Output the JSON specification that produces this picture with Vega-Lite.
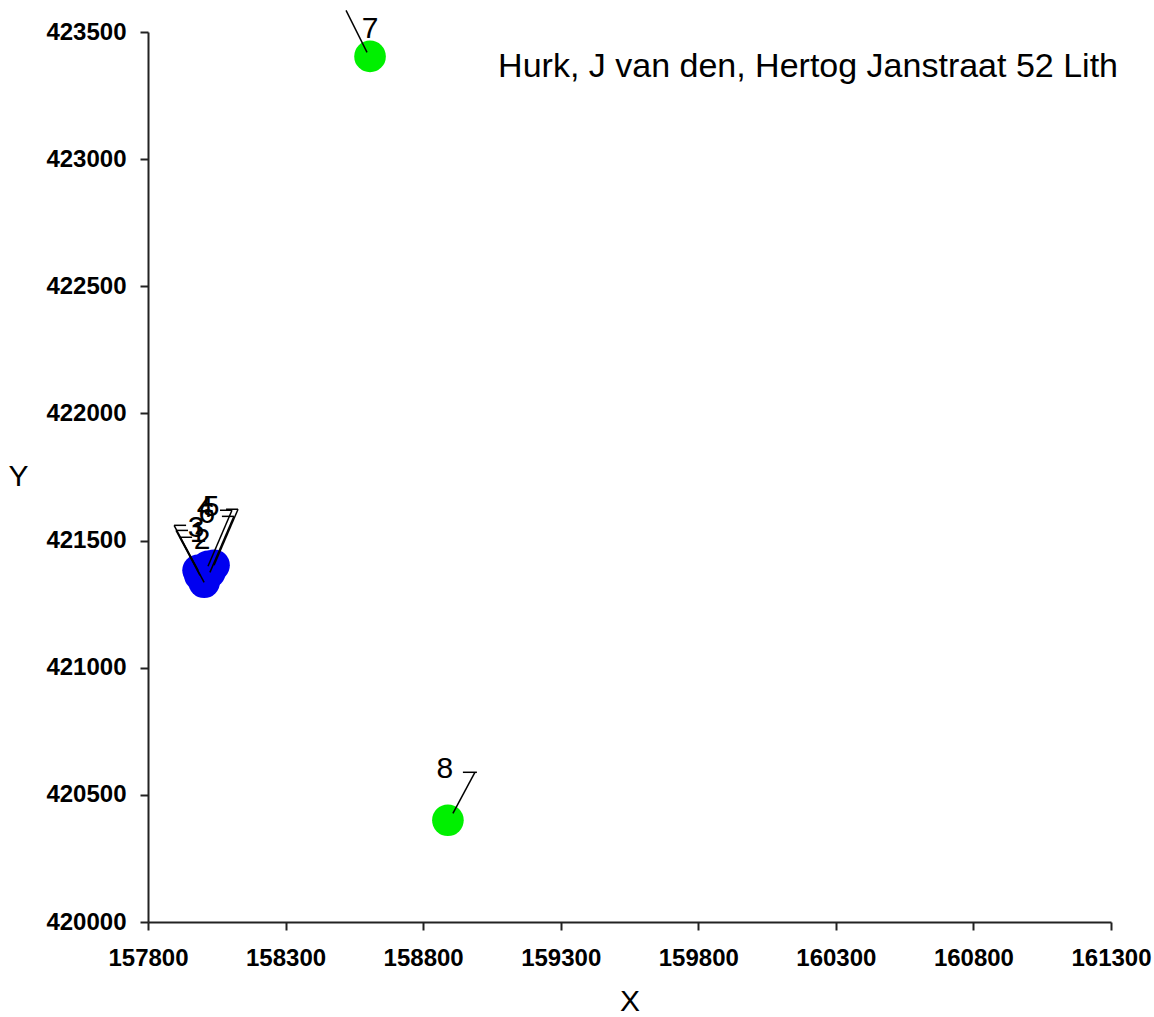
{
  "$schema": "https://vega.github.io/schema/vega-lite/v6.json",
  "width": 963,
  "height": 890,
  "autosize": {"type": "none"},
  "padding": {"left": 148, "top": 32, "right": 43, "bottom": 95},
  "background": "white",
  "config": {"view": {"stroke": null}, "font": "Liberation Sans"},
  "data": {
    "values": [
      {"label": "1", "x": 157989, "y": 421363, "kind": "blue", "grp": "L"},
      {"label": "2", "x": 158004, "y": 421336, "kind": "blue", "grp": "L"},
      {"label": "3", "x": 157982, "y": 421383, "kind": "blue", "grp": "L"},
      {"label": "4", "x": 158018, "y": 421399, "kind": "blue", "grp": "R"},
      {"label": "5", "x": 158040, "y": 421403, "kind": "blue", "grp": "R"},
      {"label": "6", "x": 158025, "y": 421375, "kind": "blue", "grp": "R"},
      {"label": "7", "x": 158607, "y": 423404, "kind": "green", "grp": "A"},
      {"label": "8", "x": 158890, "y": 420400, "kind": "green", "grp": "B"}
    ]
  },
  "encoding": {
    "x": {
      "field": "x",
      "type": "quantitative",
      "scale": {"domain": [157800, 161300], "nice": false, "zero": false},
      "axis": {
        "values": [157800, 158300, 158800, 159300, 159800, 160300, 160800, 161300],
        "format": "d",
        "labelFont": "Liberation Sans",
        "labelFontWeight": "bold",
        "labelFontSize": 24,
        "labelColor": "black",
        "labelFlush": false,
        "labelOverlap": false,
        "tickSize": 8,
        "tickWidth": 2,
        "tickColor": "#222",
        "domainColor": "#222",
        "domainWidth": 2,
        "grid": false,
        "labelPadding": 16,
        "title": "X",
        "titleFont": "Liberation Sans",
        "titleFontSize": 30,
        "titleFontWeight": "normal",
        "titleColor": "black",
        "titlePadding": 16
      }
    },
    "y": {
      "field": "y",
      "type": "quantitative",
      "scale": {"domain": [420000, 423500], "nice": false, "zero": false},
      "axis": {
        "values": [420000, 420500, 421000, 421500, 422000, 422500, 423000, 423500],
        "format": "d",
        "labelFont": "Liberation Sans",
        "labelFontWeight": "bold",
        "labelFontSize": 24,
        "labelColor": "black",
        "labelFlush": false,
        "labelOverlap": false,
        "tickSize": 8,
        "tickWidth": 2,
        "tickColor": "#222",
        "domainColor": "#222",
        "domainWidth": 2,
        "grid": false,
        "labelPadding": 14,
        "title": "Y",
        "titleFont": "Liberation Sans",
        "titleFontSize": 30,
        "titleFontWeight": "normal",
        "titleColor": "black",
        "titleAngle": 0,
        "titleX": -130,
        "titleY": 444,
        "titleAlign": "center",
        "titleBaseline": "middle"
      }
    }
  },
  "layer": [
    {
      "mark": {"type": "circle", "size": 1000, "opacity": 1},
      "encoding": {
        "color": {
          "field": "kind",
          "type": "nominal",
          "scale": {"domain": ["blue", "green"], "range": ["#0000F0", "#00F000"]},
          "legend": null
        }
      }
    },
    {
      "transform": [{"filter": "datum.grp === 'L'"}],
      "mark": {"type": "rule", "color": "black", "strokeWidth": 1.5, "x2Offset": -24, "y2Offset": -45},
      "encoding": {"x2": {"field": "x"}, "y2": {"field": "y"}}
    },
    {
      "transform": [{"filter": "datum.grp === 'L'"}],
      "mark": {"type": "rule", "color": "black", "strokeWidth": 1.5, "xOffset": -24, "x2Offset": -12, "yOffset": -45, "y2Offset": -45},
      "encoding": {"x2": {"field": "x"}, "y2": {"field": "y"}}
    },
    {
      "transform": [{"filter": "datum.grp === 'R'"}],
      "mark": {"type": "rule", "color": "black", "strokeWidth": 1.5, "x2Offset": 24, "y2Offset": -56},
      "encoding": {"x2": {"field": "x"}, "y2": {"field": "y"}}
    },
    {
      "transform": [{"filter": "datum.grp === 'R'"}],
      "mark": {"type": "rule", "color": "black", "strokeWidth": 1.5, "xOffset": 24, "x2Offset": 12, "yOffset": -56, "y2Offset": -56},
      "encoding": {"x2": {"field": "x"}, "y2": {"field": "y"}}
    },
    {
      "transform": [{"filter": "datum.grp === 'A'"}],
      "mark": {"type": "rule", "color": "black", "strokeWidth": 1.5, "xOffset": -3, "yOffset": -4, "x2Offset": -24, "y2Offset": -46},
      "encoding": {"x2": {"field": "x"}, "y2": {"field": "y"}}
    },
    {
      "transform": [{"filter": "datum.grp === 'B'"}],
      "mark": {"type": "rule", "color": "black", "strokeWidth": 1.5, "xOffset": 5, "yOffset": -7, "x2Offset": 27, "y2Offset": -48},
      "encoding": {"x2": {"field": "x"}, "y2": {"field": "y"}}
    },
    {
      "transform": [{"filter": "datum.grp === 'B'"}],
      "mark": {"type": "rule", "color": "black", "strokeWidth": 1.5, "xOffset": 15, "x2Offset": 29, "yOffset": -48, "y2Offset": -48},
      "encoding": {"x2": {"field": "x"}, "y2": {"field": "y"}}
    },
    {
      "transform": [{"filter": "datum.grp === 'L'"}],
      "mark": {"type": "text", "fontSize": 30, "font": "Liberation Sans", "color": "black", "align": "center", "baseline": "middle", "dx": -2, "dy": -42},
      "encoding": {"text": {"field": "label"}}
    },
    {
      "transform": [{"filter": "datum.grp === 'R'"}],
      "mark": {"type": "text", "fontSize": 30, "font": "Liberation Sans", "color": "black", "align": "center", "baseline": "middle", "dx": -3, "dy": -58},
      "encoding": {"text": {"field": "label"}}
    },
    {
      "transform": [{"filter": "datum.grp === 'A'"}],
      "mark": {"type": "text", "fontSize": 30, "font": "Liberation Sans", "color": "black", "align": "center", "baseline": "middle", "dx": 0, "dy": -27},
      "encoding": {"text": {"field": "label"}}
    },
    {
      "transform": [{"filter": "datum.grp === 'B'"}],
      "mark": {"type": "text", "fontSize": 30, "font": "Liberation Sans", "color": "black", "align": "center", "baseline": "middle", "dx": -3, "dy": -51},
      "encoding": {"text": {"field": "label"}}
    },
    {
      "data": {"values": [{"caption": "Hurk, J van den, Hertog Janstraat 52 Lith", "x": 161300, "y": 423500}]},
      "mark": {"type": "text", "fontSize": 34, "font": "Liberation Sans", "color": "black", "align": "right", "baseline": "alphabetic", "dx": 7, "dy": 45},
      "encoding": {
        "text": {"field": "caption"}
      }
    }
  ]
}
